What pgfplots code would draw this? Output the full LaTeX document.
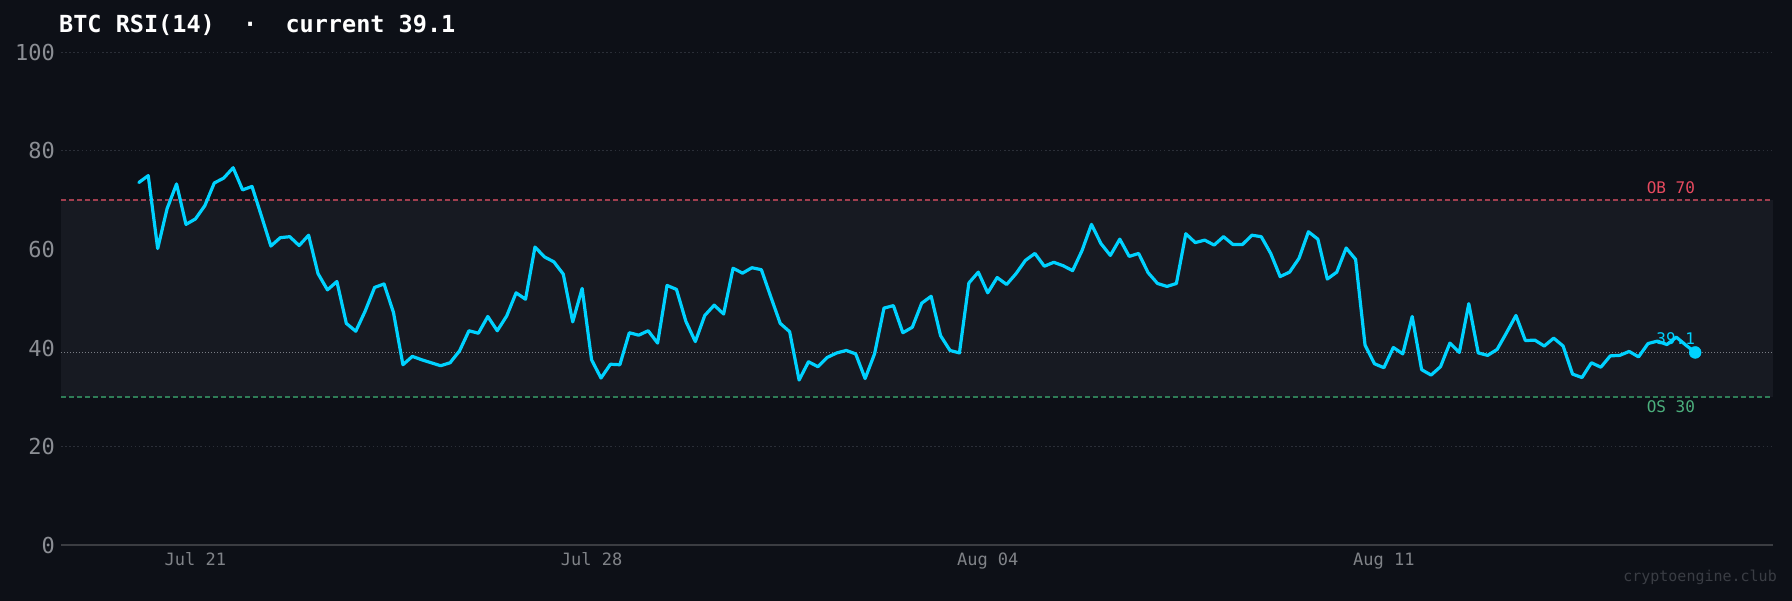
\documentclass[border=0pt]{standalone}
\usepackage{fontspec}
\setmainfont{DejaVu Sans Mono}
\usepackage{pgfplots}
\pgfplotsset{compat=1.18}
\usepackage{pgfplotstable}
\definecolor{bg}{HTML}{0D1017}
\definecolor{band}{HTML}{171A22}
\definecolor{rsi}{HTML}{00D2FF}
\definecolor{gridc}{HTML}{2B2F38}
\definecolor{spine}{HTML}{3B3D42}
\definecolor{obline}{HTML}{A03E4E}
\definecolor{osline}{HTML}{2F7D57}
\definecolor{oblab}{HTML}{E84A5F}
\definecolor{oslab}{HTML}{4CB07D}
\definecolor{curline}{HTML}{7A7D85}
\definecolor{ytick}{HTML}{8B8E94}
\definecolor{xtick}{HTML}{808388}
\definecolor{wm}{HTML}{3A3D44}

\pgfplotstableread{
x y
-24 73.6
-20 75.0
-16 60.2
-12 68.3
-8 73.3
-4 65.1
0 66.2
4 68.9
8 73.5
12 74.5
16 76.6
20 72.1
24 72.8
28 66.8
32 60.7
36 62.4
40 62.6
44 60.8
48 62.9
52 55.1
56 51.8
60 53.5
64 45.0
68 43.4
72 47.5
76 52.3
80 53.0
84 47.2
88 36.6
92 38.3
96 37.6
100 37.0
104 36.4
108 37.0
112 39.4
116 43.5
120 43.0
124 46.4
128 43.5
132 46.5
136 51.2
140 49.9
144 60.5
148 58.5
152 57.5
156 55.0
160 45.3
164 52.1
168 37.6
172 33.9
176 36.7
180 36.6
184 43.1
188 42.6
192 43.5
196 41.0
200 52.7
204 51.9
208 45.4
212 41.3
216 46.6
220 48.7
224 46.9
228 56.2
232 55.2
236 56.3
240 55.9
244 50.4
248 45.0
252 43.3
256 33.5
260 37.2
264 36.2
268 38.1
272 39.0
276 39.5
280 38.8
284 33.8
288 38.8
292 48.1
296 48.6
300 43.1
304 44.2
308 49.1
312 50.5
316 42.5
320 39.5
324 39.0
328 53.2
332 55.4
336 51.2
340 54.3
344 52.9
348 55.1
352 57.8
356 59.2
360 56.6
364 57.4
368 56.7
372 55.7
376 59.8
380 65.1
384 61.2
388 58.8
392 62.1
396 58.6
400 59.2
404 55.3
408 53.1
412 52.5
416 53.1
420 63.2
424 61.4
428 61.9
432 60.9
436 62.6
440 61.0
444 61.0
448 62.9
452 62.6
456 59.2
460 54.5
464 55.4
468 58.2
472 63.6
476 62.1
480 54.0
484 55.4
488 60.3
492 58.0
496 40.6
500 36.8
504 36.0
508 40.1
512 38.8
516 46.4
520 35.6
524 34.5
528 36.2
532 41.0
536 39.1
540 49.0
544 39.0
548 38.5
552 39.7
556 43.1
560 46.6
564 41.5
568 41.6
572 40.4
576 42.0
580 40.4
584 34.7
588 34.0
592 37.0
596 36.1
600 38.4
604 38.5
608 39.3
612 38.2
616 40.9
620 41.4
624 40.7
628 42.2
632 40.6
636 39.1
}\rsidata

\begin{document}
\begin{tikzpicture}
\fill[bg] (0pt,0pt) rectangle (1792pt,601pt);
\begin{axis}[
  at={(61pt,56pt)}, anchor=south west,
  scale only axis, width=1712pt, height=492.5pt,
  xmin=-57, xmax=669, ymin=0, ymax=100,
  axis line style={draw=none},
  major tick length=0pt,
  tick style={draw=none},
  xtick={0,168,336,504},
  xticklabels={Jul 21,Jul 28,Aug 04,Aug 11},
  ytick={0,20,40,60,80,100},
  ymajorgrids,
  grid style={color=gridc, line width=1pt, dash pattern=on 1.5pt off 2.6pt},
  /pgf/number format/assume math mode=true,
  yticklabel style={anchor=east, inner sep=0pt, xshift=-6pt, text=ytick, font=\fontsize{22}{26}\selectfont},
  xticklabel style={anchor=base, inner sep=0pt, yshift=-20.3pt, text=xtick, font=\fontsize{17}{20}\selectfont},
  clip=false,
]
\fill[band] (axis cs:-57,30) rectangle (axis cs:669,70);
\addplot[draw=spine, line width=2pt] coordinates {(-57,0) (669,0)};
\addplot[draw=obline, line width=1.8pt, dash pattern=on 5pt off 3pt] coordinates {(-57,70) (669,70)};
\addplot[draw=osline, line width=1.8pt, dash pattern=on 5pt off 3pt] coordinates {(-57,30) (669,30)};
\addplot[draw=curline, line width=0.9pt, dash pattern=on 1pt off 2pt] coordinates {(-57,39.1) (669,39.1)};
\addplot[draw=rsi, line width=3.2pt, line join=round, line cap=round] table[x=x,y=y] {\rsidata};
\addplot[only marks, mark=*, mark size=6pt, color=rsi, mark options={draw=none, fill=rsi}] coordinates {(636,39.1)};
\node[anchor=east, inner sep=0pt, text=oblab, font=\fontsize{16}{19}\selectfont] at (axis cs:636,72.5) {OB 70};
\node[anchor=east, inner sep=0pt, text=oslab, font=\fontsize{16}{19}\selectfont] at (axis cs:636,28.0) {OS 30};
\node[anchor=east, inner sep=0pt, text=rsi, font=\fontsize{16}{19}\selectfont] at (axis cs:636,41.8) {39.1};
\end{axis}
\node[anchor=base west, inner sep=0pt, text=white, font=\bfseries\fontsize{23.5}{27}\selectfont] at (59pt,568.7pt) {BTC RSI(14)~~·~~current 39.1};
\node[anchor=base east, inner sep=0pt, text=wm, font=\fontsize{15}{18}\selectfont] at (1777pt,19.3pt) {cryptoengine.club};
\pgfresetboundingbox
\useasboundingbox (0pt,0pt) rectangle (1792pt,601pt);
\end{tikzpicture}
\end{document}
